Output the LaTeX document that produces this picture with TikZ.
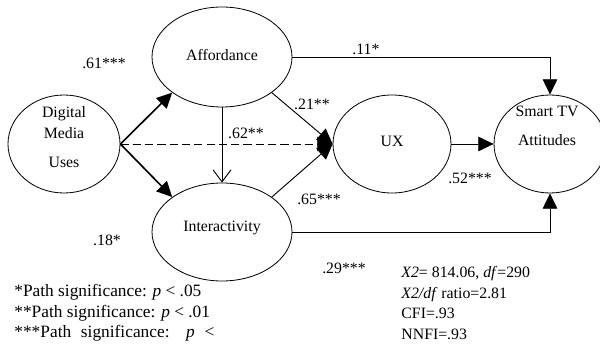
\documentclass[tikz,border=0pt]{standalone}
\usepackage{fontspec}
\setmainfont{Liberation Serif}
\usetikzlibrary{positioning,calc}
\usetikzlibrary{arrows.meta,shapes.geometric}
\tikzset{latent/.style={ellipse,draw=black,line width=0.7pt,inner sep=0pt,minimum height=2.94cm},
 txt/.style={font=\fontsize{13.5}{18}\selectfont,inner sep=1pt,align=center},
 link/.style={draw=black,line width=0.8pt,-{Triangle[length=4.6mm,width=4.4mm]}},
 boldlink/.style={link,line width=1.4pt}}

\begin{document}
\begin{tikzpicture}[x=0.03cm,y=-0.03cm]
\useasboundingbox (0,0) rectangle (600,346);
\node[latent,minimum width=3.36cm] (dmu) at (64,144) {};
\node[latent,minimum width=4.2cm,minimum height=3cm] (aff) at (222,57) {};
\node[latent,minimum width=4.2cm] (int) at (222,232) {};
\node[latent,minimum width=3.54cm] (ux) at (392,144) {};
\node[latent,minimum width=3.36cm] (stv) at (550,144) {};
\node[txt] (dmutxt) at (64,137) {Digital\\Media\\[7pt]Uses};
\node[txt] (afftxt) at (222,55) {Affordance};
\node[txt] (inttxt) at (222,228) {Interactivity};
\node[txt] (uxtxt) at (392,141) {UX};
\node[txt] (stvtxt) at (547,126) {Smart TV\\[7pt]Attitudes};
\draw[boldlink] (dmu.east) -- (aff.south west);
\draw[boldlink] (dmu.east) -- (int.north west);
\draw[link,dash pattern=on 7pt off 3.5pt] (dmu.east) -- (ux.west);
\draw[link] (aff.south east) -- (ux.west);
\draw[link] (int.north east) -- (ux.west);
\draw[link,-{Straight Barb[length=3.6mm,width=5.4mm]}] (aff.south) -- (int.north);
\draw[link] (aff.east) -| (stv.north);
\draw[link] (ux.east) -- (stv.west);
\draw[link] (int.east) -| (stv.south);
% path coefficients
\node[txt] (c61) at (104,63) {.61***};
\node[txt] (c11) at (366,49) {.11*};
\node[txt] (c21) at (312,104) {.21**};
\node[txt] (c62) at (246,133) {.62**};
\node[txt] (c65) at (319,199) {.65***};
\node[txt] (c52) at (470,178) {.52***};
\node[txt] (c18) at (107,240) {.18*};
\node[txt] (c29) at (344,268) {.29***};
% notes
\node[txt,align=left,anchor=north west,font=\fontsize{13.5}{17.5}\selectfont] (fit) at (400,265)
 {\textit{X2}= 814.06, \textit{df}=290\\ \textit{X2/df} ratio=2.81\\ CFI=.93\\ NNFI=.93};
\node[txt,align=left,anchor=north west,font=\fontsize{14.8}{17.5}\selectfont] (sig) at (13,283)
 {*Path significance: \textit{p} < .05\\ **Path significance: \textit{p} < .01\\
 \makebox[6cm][s]{***Path significance: \textit{p} <}\\ .001};
\end{tikzpicture}
\end{document}
